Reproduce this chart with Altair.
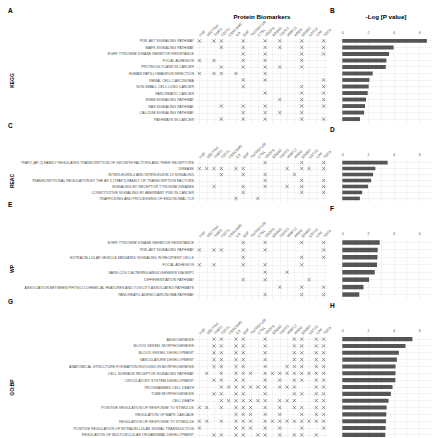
import altair as alt
import pandas as pd

proteins = ["HGF", "NECTIN4", "TIMP3", "FGF21", "CEACAM5", "IL6", "EGF", "TNFRSF10B",
            "CTSL", "VEGFA", "ERBB3", "FGFR2", "MMP12", "AREG", "ERBB2", "KRT19", "CA9", "TGFA"]

kegg_terms = ["PI3K-AKT SIGNALING PATHWAY", "MAPK SIGNALING PATHWAY",
              "EGFR TYROSINE KINASE INHIBITOR RESISTANCE", "FOCAL ADHESION",
              "PROTEOGLYCANS IN CANCER", "HUMAN PAPILLOMAVIRUS INFECTION",
              "RENAL CELL CARCINOMA", "NON-SMALL CELL LUNG CANCER", "PANCREATIC CANCER",
              "ERBB SIGNALING PATHWAY", "RAS SIGNALING PATHWAY", "CALCIUM SIGNALING PATHWAY",
              "PATHWAYS IN CANCER"]
kegg_logp = [6.6, 4.0, 3.65, 3.44, 3.39, 2.37, 2.11, 2.06, 1.98, 1.85, 1.77, 1.70, 1.38]
kegg_hits = [[0, 2, 3, 6, 9, 11, 14, 17], [3, 6, 9, 11, 14, 17], [6, 9, 14, 17],
             [0, 2, 6, 9, 14], [3, 6, 9, 11, 14], [0, 2, 3, 5, 9], [6, 9, 17],
             [6, 14, 17], [9, 14, 17], [11, 14, 17], [3, 6, 9, 14, 17], [6, 9, 11, 14],
             [3, 6, 9, 14, 17]]

reac_terms = ["TFAP2 (AP-2) FAMILY REGULATES TRANSCRIPTION OF GROWTH FACTORS AND THEIR RECEPTORS",
              "DISEASE", "INTERLEUKIN-4 AND INTERLEUKIN-13 SIGNALING",
              "TRANSCRIPTIONAL REGULATION BY THE AP-2 (TFAP2) FAMILY OF TRANSCRIPTION FACTORS",
              "SIGNALING BY RECEPTOR TYROSINE KINASES",
              "CONSTITUTIVE SIGNALING BY ABERRANT PI3K IN CANCER",
              "TRAFFICKING AND PROCESSING OF ENDOSOMAL TLR"]
reac_logp = [3.54, 2.58, 2.40, 2.25, 2.01, 1.55, 1.37]
reac_hits = [[9, 14, 17], [0, 1, 2, 3, 5, 6, 12, 14, 15, 17], [3, 6, 9, 13], [9, 14, 17],
             [2, 6, 9, 12, 14, 17], [6, 14, 17], [5, 8]]

wp_terms = ["EGFR TYROSINE KINASE INHIBITOR RESISTANCE", "PI3K-AKT SIGNALING PATHWAY",
            "EXTRACELLULAR VESICLE-MEDIATED SIGNALING IN RECIPIENT CELLS", "FOCAL ADHESION",
            "SARS-COV-2 ALTERING ANGIOGENESIS VIA NRP1", "DIFFERENTIATION PATHWAY",
            "ASSOCIATION BETWEEN PHYSICO-CHEMICAL FEATURES AND TOXICITY ASSOCIATED PATHWAYS",
            "PANCREATIC ADENOCARCINOMA PATHWAY"]
wp_logp = [2.92, 2.76, 2.74, 2.71, 2.53, 2.09, 1.65, 1.32]
wp_hits = [[6, 9, 14, 17], [0, 2, 3, 6, 9, 17], [6, 14, 17], [0, 2, 6, 9, 14], [9, 12],
           [6, 9, 15], [11, 14, 17], [9, 14, 17]]

go_terms = ["ANGIOGENESIS", "BLOOD VESSEL MORPHOGENESIS", "BLOOD VESSEL DEVELOPMENT",
            "VASCULATURE DEVELOPMENT", "ANATOMICAL STRUCTURE FORMATION INVOLVED IN MORPHOGENESIS",
            "CELL SURFACE RECEPTOR SIGNALING PATHWAY", "CIRCULATORY SYSTEM DEVELOPMENT",
            "PROGRAMMED CELL DEATH", "TUBE MORPHOGENESIS", "CELL DEATH",
            "POSITIVE REGULATION OF RESPONSE TO STIMULUS", "REGULATION OF MAPK CASCADE",
            "REGULATION OF RESPONSE TO STIMULUS",
            "POSITIVE REGULATION OF INTRACELLULAR SIGNAL TRANSDUCTION",
            "REGULATION OF MULTICELLULAR ORGANISMAL DEVELOPMENT"]
go_logp = [5.47, 4.93, 4.41, 4.26, 4.15, 4.15, 4.14, 3.92, 3.79, 3.61, 3.46, 3.43, 3.41, 3.38, 3.35]
go_hits = [[2, 3, 5, 6, 9, 13, 14, 16, 17], [2, 3, 5, 6, 9, 13, 14, 16, 17],
           [2, 3, 5, 6, 9, 13, 14, 16, 17], [2, 3, 5, 6, 9, 13, 14, 16, 17],
           [2, 3, 5, 6, 9, 12, 13, 14, 16, 17],
           [1, 3, 5, 6, 7, 9, 10, 11, 12, 13, 14, 15, 16, 17],
           [2, 3, 5, 6, 9, 11, 13, 14, 16, 17],
           [3, 4, 5, 6, 7, 8, 9, 11, 12, 13, 16, 17],
           [2, 3, 5, 6, 9, 13, 14, 16, 17],
           [3, 4, 5, 6, 7, 8, 9, 11, 12, 13, 16, 17],
           [0, 1, 3, 5, 6, 7, 9, 11, 13, 14, 16, 17],
           [5, 6, 7, 9, 11, 14, 16, 17],
           [0, 1, 3, 5, 6, 7, 9, 10, 11, 12, 13, 14, 15, 16, 17],
           [0, 5, 6, 7, 9, 11, 14, 17],
           [2, 3, 5, 6, 8, 9, 11, 13, 14, 16]]

groups = [
    ("KEGG", "A", "B", kegg_terms, kegg_logp, kegg_hits, 86),
    ("REAC", "C", "D", reac_terms, reac_logp, reac_hits, 43),
    ("WP", "E", "F", wp_terms, wp_logp, wp_hits, 61),
    ("GO:BP", "G", "H", go_terms, go_logp, go_hits, 104),
]

XPATH = "M-1,-1L1,1M-1,1L1,-1"
LBL = "#4d4d4d"
GRID = "#e6e6e6"
MAT_W = 133
BAR_W = 93

cells = []
for i, (name, let1, let2, terms, logp, hits, h) in enumerate(groups):
    top = i == 0
    rows = [{"term": t, "protein": proteins[j]} for t, hh in zip(terms, hits) for j in hh]
    dfm = pd.DataFrame(rows)
    xaxis_kw = dict(orient="top", labelAngle=-45, labelAlign="left", labelBaseline="middle",
                    labelFontSize=3.6, labelColor=LBL, labelPadding=1.5, ticks=False,
                    domain=False, grid=True)
    if top:
        xaxis_kw.update(titleY=-20.5, titleBaseline="middle", titleFontSize=6.2,
                        titleFontWeight="bold", titleColor="black")
    mat = alt.Chart(dfm).mark_point(shape=XPATH, filled=False, size=11, strokeWidth=0.6,
                                    color="#555555", opacity=1).encode(
        x=alt.X("protein:N", scale=alt.Scale(domain=proteins, type="point", padding=0.6),
                axis=alt.Axis(**xaxis_kw),
                title="Protein Biomarkers" if top else None),
        y=alt.Y("term:N", scale=alt.Scale(domain=terms, type="point", padding=0.6),
                axis=alt.Axis(title=name, titleX=-184, titleY=h / 2, titleAngle=270,
                              titleBaseline="middle", titleAlign="center", titleFontSize=5,
                              titleFontWeight="bold", titleColor="black",
                              labelFontSize=3.6, labelColor=LBL, labelLimit=400,
                              labelPadding=1.5, ticks=False, domain=False, grid=True)),
    ).properties(width=MAT_W, height=h,
                 title=alt.TitleParams(let1, anchor="start", frame="group", dx=-187,
                                       offset=-1 if top else 12, fontSize=6.5,
                                       fontWeight="bold", color="black"))

    dfb = pd.DataFrame({"term": terms, "logp": logp})
    baxis_kw = dict(orient="top", values=[0, 1, 2, 3, 4, 5, 6, 7],
                    labelExpr="datum.value % 2 == 0 ? datum.label : ''",
                    labelFontSize=3.6, labelColor=LBL, labelPadding=2.5, ticks=False,
                    domain=False, grid=True)
    if top:
        baxis_kw.update(titleY=-20.5, titleBaseline="middle", titleFontSize=6.2,
                        titleFontWeight="bold", titleColor="black")
    bars = alt.Chart(dfb).mark_bar(color="#555555").encode(
        x=alt.X("logp:Q", scale=alt.Scale(domain=[-0.26, 7.0], nice=False),
                axis=alt.Axis(**baxis_kw), title="-Log [P value]" if top else None),
        x2=alt.datum(0),
        y=alt.Y("term:N", scale=alt.Scale(domain=terms, paddingInner=0.4, paddingOuter=0.3),
                axis=alt.Axis(labels=False, ticks=False, domain=False, grid=True,
                              bandPosition=0.5, title=None)),
    ).properties(width=BAR_W, height=h,
                 title=alt.TitleParams(let2, anchor="start", frame="group", dx=-9,
                                       offset=-1 if top else 19, fontSize=6.5,
                                       fontWeight="bold", color="black"))
    cells += [mat, bars]

chart = alt.concat(*cells, columns=2, spacing={"row": 36, "column": 11},
                   bounds="flush").properties(padding=0).configure(
    font="Liberation Sans"
).configure_axis(gridColor=GRID, gridWidth=0.5).configure_view(strokeWidth=0)

chart.save("out.html", embed_options={"renderer": "svg", "actions": False})
